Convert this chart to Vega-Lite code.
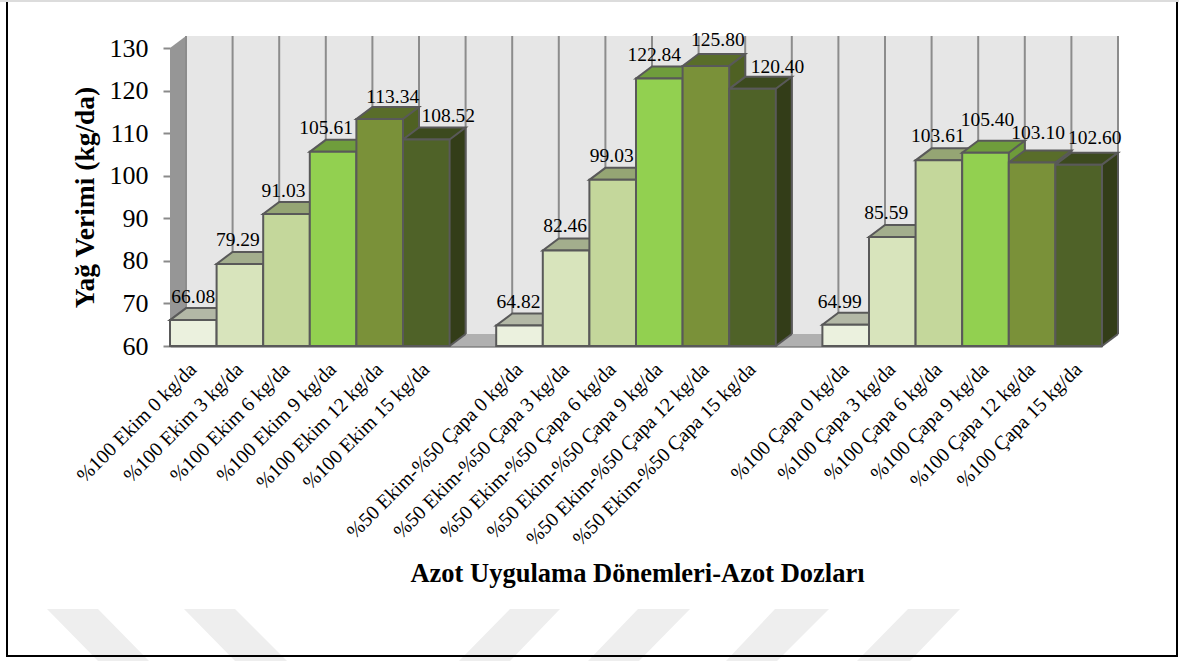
{
  "$schema": "https://vega.github.io/schema/vega-lite/v6.json",
  "width": 948,
  "height": 310,
  "autosize": {"type": "none"},
  "padding": {"left": 170, "top": 36, "right": 61, "bottom": 315},
  "background": "white",
  "config": {"view": {"stroke": null}},
  "data": {
    "values": [
      {"dilim": "%100 Ekim 0 kg/da", "doz": "0", "verim": 66.08},
      {"dilim": "%100 Ekim 3 kg/da", "doz": "3", "verim": 79.29},
      {"dilim": "%100 Ekim 6 kg/da", "doz": "6", "verim": 91.03},
      {"dilim": "%100 Ekim 9 kg/da", "doz": "9", "verim": 105.61},
      {"dilim": "%100 Ekim 12 kg/da", "doz": "12", "verim": 113.34},
      {"dilim": "%100 Ekim 15 kg/da", "doz": "15", "verim": 108.52},
      {"dilim": "%50 Ekim-%50 Çapa 0 kg/da", "doz": "0", "verim": 64.82},
      {"dilim": "%50 Ekim-%50 Çapa 3 kg/da", "doz": "3", "verim": 82.46},
      {"dilim": "%50 Ekim-%50 Çapa 6 kg/da", "doz": "6", "verim": 99.03},
      {"dilim": "%50 Ekim-%50 Çapa 9 kg/da", "doz": "9", "verim": 122.84},
      {"dilim": "%50 Ekim-%50 Çapa 12 kg/da", "doz": "12", "verim": 125.8},
      {"dilim": "%50 Ekim-%50 Çapa 15 kg/da", "doz": "15", "verim": 120.4},
      {"dilim": "%100 Çapa 0 kg/da", "doz": "0", "verim": 64.99},
      {"dilim": "%100 Çapa 3 kg/da", "doz": "3", "verim": 85.59},
      {"dilim": "%100 Çapa 6 kg/da", "doz": "6", "verim": 103.61},
      {"dilim": "%100 Çapa 9 kg/da", "doz": "9", "verim": 105.4},
      {"dilim": "%100 Çapa 12 kg/da", "doz": "12", "verim": 103.1},
      {"dilim": "%100 Çapa 15 kg/da", "doz": "15", "verim": 102.6}
    ]
  },
  "encoding": {
    "x": {
      "field": "dilim",
      "type": "nominal",
      "sort": null,
      "scale": {
        "domain": [
          "%100 Ekim 0 kg/da", "%100 Ekim 3 kg/da", "%100 Ekim 6 kg/da", "%100 Ekim 9 kg/da", "%100 Ekim 12 kg/da", "%100 Ekim 15 kg/da",
          " ",
          "%50 Ekim-%50 Çapa 0 kg/da", "%50 Ekim-%50 Çapa 3 kg/da", "%50 Ekim-%50 Çapa 6 kg/da", "%50 Ekim-%50 Çapa 9 kg/da", "%50 Ekim-%50 Çapa 12 kg/da", "%50 Ekim-%50 Çapa 15 kg/da",
          "  ",
          "%100 Çapa 0 kg/da", "%100 Çapa 3 kg/da", "%100 Çapa 6 kg/da", "%100 Çapa 9 kg/da", "%100 Çapa 12 kg/da", "%100 Çapa 15 kg/da"
        ],
        "range": [0, 932],
        "paddingInner": 0,
        "paddingOuter": 0
      },
      "axis": {
        "title": "Azot Uygulama Dönemleri-Azot Dozları",
        "titleFont": "Liberation Serif",
        "titleFontSize": 26.5,
        "titleFontWeight": "bold",
        "titleColor": "black",
        "titleX": 467,
        "titleY": 227,
        "titleBaseline": "middle",
        "titleAlign": "center",
        "labelFont": "Liberation Serif",
        "labelFontSize": 20,
        "labelColor": "black",
        "labelAngle": -45,
        "labelAlign": "right",
        "labelBaseline": "middle",
        "labelPadding": 20,
        "labelOverlap": false,
        "labelLimit": 400,
        "ticks": false,
        "grid": false,
        "domainColor": "#8a8a8a",
        "domainWidth": 2.5
      }
    },
    "y": {
      "field": "verim",
      "type": "quantitative",
      "scale": {"domain": [60, 132.82], "nice": false, "zero": false},
      "axis": {
        "title": "Yağ Verimi (kg/da)",
        "titleFont": "Liberation Serif",
        "titleFontSize": 27.5,
        "titleFontWeight": "bold",
        "titleColor": "black",
        "titleX": -85,
        "titleY": 161,
        "titleAngle": -90,
        "titleBaseline": "middle",
        "titleAlign": "center",
        "values": [60, 70, 80, 90, 100, 110, 120, 130],
        "labelFont": "Liberation Serif",
        "labelFontSize": 26,
        "labelColor": "black",
        "labelPadding": 15,
        "tickSize": 7,
        "tickColor": "#8a8a8a",
        "tickWidth": 2,
        "domain": false,
        "grid": false
      }
    }
  },
  "resolve": {"scale": {"color": "independent"}},
  "layer": [
    {
      "transform": [{"filter": "datum.verim === 66.08"}],
      "mark": {
        "type": "point", "filled": true, "opacity": 1, "size": 4, "fill": "#eeeeee", "strokeWidth": 0,
        "shape": "M-123,263L-72,263L-21,315L-72,315ZM14,263L65,263L117,315L65,315ZM340,263L390,263L340,315L289,315ZM468,263L520,263L469,315L418,315ZM605,263L659,263L607,315L556,315ZM738,263L790,263L740,315L687,315Z"
      },
      "encoding": {
        "x": {"field": "dilim", "type": "nominal", "bandPosition": 0},
        "y": {"datum": 60, "type": "quantitative"}
      }
    },
    {
      "transform": [{"filter": "datum.verim === 66.08"}],
      "mark": {
        "type": "point", "filled": false, "opacity": 1, "size": 4, "stroke": "black", "strokeWidth": 2,
        "shape": "M-163,-344L-163,310L1007,310L1007,-344"
      },
      "encoding": {
        "x": {"field": "dilim", "type": "nominal", "bandPosition": 0},
        "y": {"datum": 60, "type": "quantitative"}
      }
    },
    {
      "transform": [{"filter": "datum.verim === 66.08"}],
      "mark": {
        "type": "point", "filled": false, "opacity": 1, "size": 4, "stroke": "#dcdcdc", "strokeWidth": 2,
        "shape": "M-170,-345L1009,-345"
      },
      "encoding": {
        "x": {"field": "dilim", "type": "nominal", "bandPosition": 0},
        "y": {"datum": 60, "type": "quantitative"}
      }
    },
    {
      "transform": [{"filter": "datum.verim === 66.08"}],
      "mark": {
        "type": "point", "filled": true, "opacity": 1, "size": 4, "fill": "#e6e6e6", "strokeWidth": 0,
        "shape": "M16,-12L948,-12L948,-310L16,-310Z"
      },
      "encoding": {
        "x": {"field": "dilim", "type": "nominal", "bandPosition": 0},
        "y": {"datum": 60, "type": "quantitative"}
      }
    },
    {
      "transform": [{"filter": "datum.verim === 66.08"}],
      "mark": {
        "type": "point", "filled": true, "opacity": 1, "size": 4, "fill": "#b0b0b0", "strokeWidth": 0,
        "shape": "M0,0L16,-12L948,-12L932,0Z"
      },
      "encoding": {
        "x": {"field": "dilim", "type": "nominal", "bandPosition": 0},
        "y": {"datum": 60, "type": "quantitative"}
      }
    },
    {
      "transform": [{"filter": "datum.verim === 66.08"}],
      "mark": {
        "type": "point", "filled": true, "opacity": 1, "size": 4, "fill": "#969696", "strokeWidth": 0,
        "shape": "M0,0L16,-12L16,-310L0,-298Z"
      },
      "encoding": {
        "x": {"field": "dilim", "type": "nominal", "bandPosition": 0},
        "y": {"datum": 60, "type": "quantitative"}
      }
    },
    {
      "mark": {"type": "rule", "xOffset": 16, "yOffset": -12, "y2Offset": -12, "stroke": "#8c8c8c", "strokeWidth": 2},
      "encoding": {
        "x": {"field": "dilim", "type": "nominal", "bandPosition": 0},
        "y": {"datum": 130, "type": "quantitative"},
        "y2": {"datum": 60}
      }
    },
    {
      "transform": [{"filter": "datum.doz === '15'"}],
      "mark": {"type": "rule", "xOffset": 16, "yOffset": -12, "y2Offset": -12, "stroke": "#8c8c8c", "strokeWidth": 2},
      "encoding": {
        "x": {"field": "dilim", "type": "nominal", "bandPosition": 1},
        "y": {"datum": 130, "type": "quantitative"},
        "y2": {"datum": 60}
      }
    },
    {
      "mark": {"type": "bar", "width": 16, "xOffset": 31.3, "yOffset": -12, "y2Offset": -12},
      "encoding": {
        "y2": {"datum": 60},
        "color": {
          "field": "doz", "type": "nominal", "legend": null,
          "scale": {"domain": ["0", "3", "6", "9", "12", "15"], "range": ["#a9ae9c", "#99a484", "#8c9b6c", "#6e9b3a", "#4f6123", "#333d18"]}
        }
      }
    },
    {
      "mark": {"type": "point", "filled": true, "opacity": 1, "size": 4, "strokeWidth": 0, "shape": "M23.3,0L39.3,-12L23.3,-12Z"},
      "encoding": {
        "y": {"datum": 60, "type": "quantitative"},
        "color": {
          "field": "doz", "type": "nominal", "legend": null,
          "scale": {"domain": ["0", "3", "6", "9", "12", "15"], "range": ["#a9ae9c", "#99a484", "#8c9b6c", "#6e9b3a", "#4f6123", "#333d18"]}
        }
      }
    },
    {
      "mark": {"type": "point", "filled": false, "opacity": 1, "size": 4, "stroke": "#595959", "strokeWidth": 2, "shape": "M23.3,0L39.3,-12"},
      "encoding": {
        "y": {"datum": 60, "type": "quantitative"}
      }
    },
    {
      "mark": {"type": "rule", "xOffset": 39.3, "yOffset": -12, "y2Offset": -12, "stroke": "#595959", "strokeWidth": 2},
      "encoding": {
        "y2": {"datum": 60}
      }
    },
    {
      "mark": {"type": "point", "filled": true, "opacity": 1, "size": 4, "stroke": "#595959", "strokeWidth": 2, "shape": "M-23.3,0L23.3,0L39.3,-12L-7.3,-12Z"},
      "encoding": {
        "color": {
          "field": "doz", "type": "nominal", "legend": null,
          "scale": {"domain": ["0", "3", "6", "9", "12", "15"], "range": ["#b3b8a6", "#a3ae8d", "#95a574", "#6f9d3c", "#596d2a", "#3c4a1e"]}
        }
      }
    },
    {
      "mark": {"type": "bar", "width": {"band": 1}, "stroke": "#595959", "strokeWidth": 2},
      "encoding": {
        "y2": {"datum": 60},
        "color": {
          "field": "doz", "type": "nominal", "legend": null,
          "scale": {"domain": ["0", "3", "6", "9", "12", "15"], "range": ["#ebf1de", "#d8e4bc", "#c4d79b", "#92d050", "#7a9139", "#4f6228"]}
        }
      }
    },
    {
      "mark": {
        "type": "text",
        "font": "Liberation Serif",
        "fontSize": 19.5,
        "color": "black",
        "baseline": "middle",
        "dx": {"expr": "({66.08:0,79.29:-2,91.03:-3,105.61:-7,113.34:13,108.52:22,64.82:-1,82.46:-1,99.03:-1,122.84:-5,125.8:12,120.4:25,64.99:-6,85.59:-6,103.61:-1,105.4:2,103.1:6,102.6:16})[datum.verim]"},
        "dy": {"expr": "({66.08:-23,79.29:-24,91.03:-23,105.61:-24,113.34:-22,108.52:-23,64.82:-23,82.46:-24,99.03:-24,122.84:-23,125.8:-26,120.4:-22,64.99:-23,85.59:-24,103.61:-24,105.4:-33,103.1:-30,102.6:-27})[datum.verim]"}
      },
      "encoding": {
        "text": {"field": "verim", "type": "quantitative", "format": ".2f"}
      }
    }
  ]
}
